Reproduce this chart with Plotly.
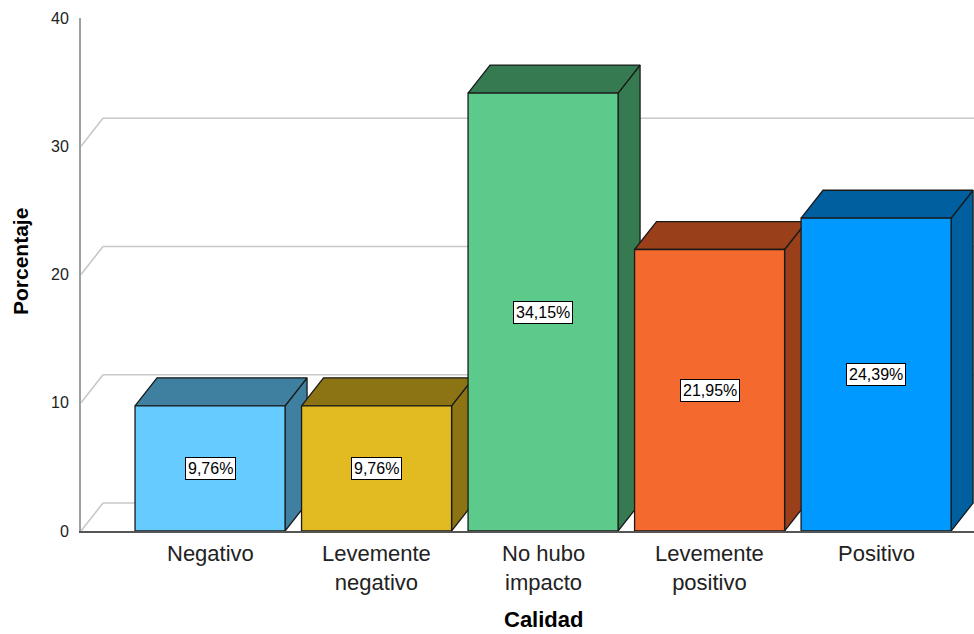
import plotly.graph_objects as go

# Data
categories = ["Negativo", "Levemente negativo", "No hubo impacto", "Levemente positivo", "Positivo"]
tick_labels = ["Negativo", "Levemente<br>negativo", "No hubo<br>impacto",
               "Levemente<br>positivo", "Positivo"]
percentages = [9.76, 9.76, 34.15, 21.95, 24.39]
value_labels = ["9,76%", "9,76%", "34,15%", "21,95%", "24,39%"]
y_ticks = [0, 10, 20, 30, 40]

# Face colours: front face and shaded (top / side) face
front_colors = ["#66CCFF", "#E1BB21", "#5CCA8A", "#F4692D", "#0099FF"]
shade_colors = ["#3F7F9F", "#8C7414", "#367A52", "#993F1A", "#005F9E"]

FONT = "Liberation Sans, Arial, sans-serif"
W, H = 974, 634
ML, MR, MT, MB = 81, 0, 18, 103
plot_w = W - ML - MR
plot_h = H - MT - MB

X0 = -0.775
X_SPAN = 5.363
Y_MAX = 40
BAR_W = 0.901          # bar width in category units
DX = 0.132             # depth offset, x (category units)
DY = 2.18              # depth offset, y (percent units)


def py_to_paper(px_y):
    """Vertical page pixel -> paper coordinate."""
    return (H - MB - px_y) / plot_h


fig = go.Figure()

# Back wall grid lines with the receding diagonal from the axis
shapes = []
for v in y_ticks:
    if v + DY > Y_MAX:
        continue
    shapes.append(dict(type="line", xref="x", yref="y", layer="below",
                       x0=X0 + DX, x1=X0 + X_SPAN, y0=v + DY, y1=v + DY,
                       line=dict(color="#C8C8C8", width=1.6)))
    shapes.append(dict(type="line", xref="x", yref="y", layer="below",
                       x0=X0, x1=X0 + DX, y0=v, y1=v + DY,
                       line=dict(color="#C8C8C8", width=1.6)))

# 3D bars: side, top, then front face for each category, left to right
for i, v in enumerate(percentages):
    xl, xr = i - BAR_W / 2, i + BAR_W / 2
    side_x = [xr, xr + DX, xr + DX, xr, xr]
    side_y = [0, DY, v + DY, v, 0]
    top_x = [xl, xl + DX, xr + DX, xr, xl]
    top_y = [v, v + DY, v + DY, v, v]
    front_x = [xl, xr, xr, xl, xl]
    front_y = [0, 0, v, v, 0]
    for px, py, col in ((side_x, side_y, shade_colors[i]),
                        (top_x, top_y, shade_colors[i]),
                        (front_x, front_y, front_colors[i])):
        fig.add_trace(go.Scatter(
            x=px, y=py, mode="lines", fill="toself", fillcolor=col,
            line=dict(color="#1A1A1A", width=1.3),
            hoverinfo="skip", showlegend=False, cliponaxis=False,
        ))

# Value labels in boxes on each front face
annotations = []
for i, (v, lab) in enumerate(zip(percentages, value_labels)):
    annotations.append(dict(
        x=i, y=v / 2, xref="x", yref="y", text=lab, showarrow=False,
        font=dict(family=FONT, size=16, color="#000000"),
        bgcolor="#FFFFFF", bordercolor="#000000", borderwidth=1, borderpad=2,
    ))

# Category labels under the axis
for i, lab in enumerate(tick_labels):
    annotations.append(dict(
        x=i, y=py_to_paper(539), xref="x", yref="paper",
        text=lab, showarrow=False, xanchor="center", yanchor="top",
        font=dict(family=FONT, size=22, color="#222222"),
    ))

# Axis titles
annotations.append(dict(
    x=(20 - ML) / plot_w, y=py_to_paper(262), xref="paper", yref="paper",
    text="<b>Porcentaje</b>", textangle=-90, showarrow=False,
    xanchor="center", yanchor="middle",
    font=dict(family=FONT, size=21, color="#000000"),
))
annotations.append(dict(
    x=(543 - ML) / plot_w, y=py_to_paper(619), xref="paper", yref="paper",
    text="<b>Calidad</b>", showarrow=False, xanchor="center", yanchor="middle",
    font=dict(family=FONT, size=22, color="#000000"),
))

fig.update_layout(
    width=W, height=H,
    margin=dict(l=ML, r=MR, t=MT, b=MB, pad=0),
    paper_bgcolor="#FFFFFF", plot_bgcolor="#FFFFFF",
    shapes=shapes, annotations=annotations, showlegend=False,
    xaxis=dict(
        range=[X0, X0 + X_SPAN], tickmode="array",
        tickvals=list(range(len(categories))), ticktext=[""] * len(categories),
        showgrid=False, zeroline=False, showline=True,
        linecolor="#555555", linewidth=2, ticks="",
    ),
    yaxis=dict(
        range=[0, Y_MAX], tickmode="array", tickvals=y_ticks,
        showgrid=False, zeroline=False, showline=True,
        linecolor="#A0A0A0", linewidth=2, ticks="",
        ticklabelstandoff=7,
        tickfont=dict(family=FONT, size=16, color="#222222"),
    ),
)

fig.write_html("out.html")
